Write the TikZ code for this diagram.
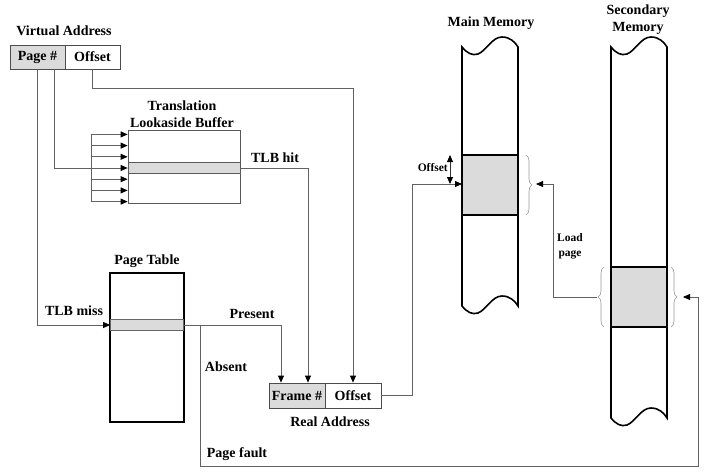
\documentclass[tikz,border=0pt]{standalone}
\usepackage{fontspec}
\setmainfont{Liberation Serif}
\usetikzlibrary{arrows.meta,calc,decorations.pathreplacing}

\tikzset{
  lbl/.style={font=\bfseries\fontsize{14}{16}\selectfont, inner sep=0pt},
  smalllbl/.style={font=\bfseries\fontsize{11.5}{13}\selectfont, inner sep=0pt},
  cell/.style={draw=black!70, line width=0.8pt, minimum height=24pt, inner sep=0pt,
               font=\bfseries\fontsize{14}{16}\selectfont},
  shade/.style={fill=black!14},
  conn/.style={draw=black!62, line width=0.8pt},
  tip/.style={-{Triangle[length=7pt,width=6pt,color=black]}},
  dtip/.style={{Triangle[length=7pt,width=6pt,color=black]}-{Triangle[length=7pt,width=6pt,color=black]}},
  mem/.style={draw=black, line width=1.6pt},
  brc/.style={decorate, decoration={brace, amplitude=6pt}, draw=black!40, line width=0.6pt},
}

\begin{document}
\begin{tikzpicture}[x=1pt, y=-1pt]
\useasboundingbox (0,0) rectangle (714,474);
\fill[white] (0,0) rectangle (714,474);

% ---------- virtual address ----------
\node[lbl] (vatitle) at (64,31) {Virtual Address};
\node[cell, shade, minimum width=55pt] (vapage) at (37.5,57) {Page \#};
\node[cell, minimum width=55pt] (vaoff) at (92.5,57) {Offset};

% ---------- translation lookaside buffer ----------
\node[lbl] (tlbt1) at (182,106) {Translation};
\node[lbl] (tlbt2) at (182,123) {Lookaside Buffer};
\node[draw=black!65, line width=0.8pt, minimum width=112pt, minimum height=73pt, inner sep=0pt] (tlb) at (184,166.5) {};
\node[draw=black!65, line width=0.8pt, shade, minimum width=112pt, minimum height=11pt, inner sep=0pt] (tlbrow) at (184,168) {};

% comb of inputs to every TLB entry
\foreach \k in {1,...,7} {
  \coordinate (comb\k) at (91,{168+(\k-4)*11.2});
  \draw[conn, tip] (comb\k) -- (comb\k -| tlb.west);
}
\draw[conn] (comb1) -- (comb7);

% ---------- page table ----------
\node[lbl] (pttitle) at (147,261) {Page Table};
\node[draw=black, line width=1.6pt, minimum width=74pt, minimum height=149pt, inner sep=0pt] (pt) at (147,347.5) {};
\node[draw=black!60, line width=0.8pt, shade, minimum width=73pt, minimum height=11pt, inner sep=0pt] (ptrow) at (147,325) {};

% ---------- real address ----------
\node[cell, shade, minimum width=56pt, minimum height=25pt] (frame) at (297,395.5) {Frame \#};
\node[cell, minimum width=56pt, minimum height=25pt] (raoff) at (353,395.5) {Offset};
\node[lbl] (ratitle) at (330,422) {Real Address};

% ---------- main memory ----------
\node[lbl] (mmtitle) at (491,23) {Main Memory};
\node[mem, shade, minimum width=56pt, minimum height=60pt, inner sep=0pt] (mmblk) at (490,185) {};
\draw[mem] (462,47) .. controls (467,53) and (472,56) .. (478,54)
  .. controls (486,51) and (492,37) .. (502,37)
  .. controls (510,37) and (515,42) .. (518,47) -- (518,306)
  .. controls (515,301) and (510,296) .. (502,296)
  .. controls (492,296) and (486,310) .. (478,313)
  .. controls (472,315) and (467,312) .. (462,306) -- cycle;
\draw[brc] (526,155) -- (526,215);
\coordinate (mmtip) at (536,184);

% ---------- secondary memory ----------
\node[lbl] (smtitle1) at (638,11) {Secondary};
\node[lbl] (smtitle2) at (638,28) {Memory};
\node[mem, shade, minimum width=56pt, minimum height=60pt, inner sep=0pt] (smblk) at (639,297) {};
\draw[mem] (611,47) .. controls (616,53) and (621,56) .. (627,54)
  .. controls (635,51) and (641,37) .. (651,37)
  .. controls (659,37) and (664,42) .. (667,47) -- (667,418)
  .. controls (664,413) and (659,408) .. (651,408)
  .. controls (641,408) and (635,422) .. (627,425)
  .. controls (621,427) and (616,424) .. (611,418) -- cycle;
\draw[brc] (604,327) -- (604,267);
\draw[brc] (671,267) -- (671,327);
\coordinate (smleft) at (597,297);
\coordinate (smright) at (683,297);

% ---------- connectors ----------
% page number to TLB and to page table
\draw[conn] ($(vapage.south east)+(-11,0)$) |- (comb4);
\draw[conn, tip] (vapage.south) |- (ptrow.west);
\node[lbl] (misslbl) at (74,311) {TLB miss};

% offset carried straight into the real address
\coordinate (offturn) at (353,88);
\draw[conn, tip] (vaoff.south) |- (offturn) -- (raoff.north);

% TLB hit
\draw[conn, tip] (tlbrow.east) -| ([xshift=11pt]frame.north);
\node[lbl] (hitlbl) at (275,158) {TLB hit};

% page table hit / miss
\draw[conn, tip] (ptrow.east) -| ([xshift=-16pt]frame.north);
\node[lbl] (preslbl) at (252,314) {Present};
\coordinate (absent) at (200,325);
\coordinate (faultturn) at (698,466);
\draw[conn, tip] (absent) |- (faultturn) |- (smright);
\node[lbl] (abslbl) at (226,367) {Absent};
\node[lbl] (faultlbl) at (237,454) {Page fault};

% real address into main memory
\coordinate (mmin) at (462,184);
\draw[conn, tip] (raoff.east) -| ($(mmin)+(-50,0)$) -- (mmin);
\coordinate (offtop) at (450,155);
\draw[conn, draw=black!80, dtip] (offtop) -- (offtop |- mmin);
\node[smalllbl, anchor=east] (offlbl) at (448,168) {Offset};

% load page from secondary memory
\draw[conn, tip] (smleft) -| ($(mmtip)+(17,0)$) -- (mmtip);
\node[smalllbl] (loadlbl1) at (570,238) {Load};
\node[smalllbl] (loadlbl2) at (570,255) {page};
\end{tikzpicture}
\end{document}
